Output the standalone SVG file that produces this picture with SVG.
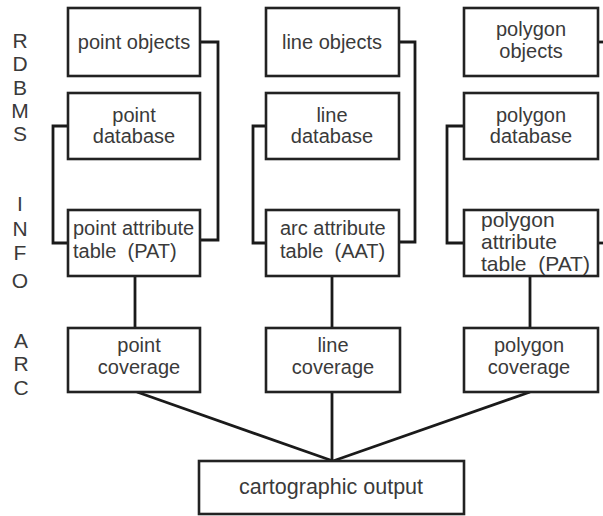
<svg xmlns="http://www.w3.org/2000/svg" width="603" height="516" viewBox="0 0 603 516">
<style>
.box{fill:#fff;stroke:#222;stroke-width:2.6}
.lbl{font-family:"Liberation Sans",Arial,sans-serif;font-size:20px;fill:#3a3a3a}
.c{text-anchor:middle}
.side{font-family:"Liberation Sans",Arial,sans-serif;font-size:21px;fill:#3a3a3a;text-anchor:middle}
.con{fill:none;stroke:#1a1a1a;stroke-width:2.8}
</style>
<rect width="603" height="516" fill="#fff"/>
<g id="side-labels">
<text class="side" x="20" y="48">R</text>
<text class="side" x="20" y="71">D</text>
<text class="side" x="20" y="95">B</text>
<text class="side" x="20" y="118">M</text>
<text class="side" x="20" y="141">S</text>
<text class="side" x="20" y="211">I</text>
<text class="side" x="20" y="236">N</text>
<text class="side" x="20" y="260">F</text>
<text class="side" x="20" y="288">O</text>
<text class="side" x="21" y="348">A</text>
<text class="side" x="21" y="371">R</text>
<text class="side" x="21" y="395">C</text>
</g>
<g id="connectors">
<polyline class="con" points="200,42 218,42 218,240 200,240"/>
<polyline class="con" points="68,126 53,126 53,243 68,243"/>
<polyline class="con" points="399,42 415,42 415,242 399,242"/>
<polyline class="con" points="266,126 253,126 253,243 266,243"/>
<line class="con" x1="598" y1="42" x2="605" y2="42"/>
<line class="con" x1="598" y1="243" x2="605" y2="243"/>
<polyline class="con" points="464,126 447,126 447,243 464,243"/>
<line class="con" x1="135" y1="276" x2="135" y2="328"/>
<line class="con" x1="332" y1="276" x2="332" y2="328"/>
<line class="con" x1="530" y1="276" x2="530" y2="328"/>
<line class="con" x1="137" y1="392" x2="333" y2="461"/>
<line class="con" x1="332" y1="392" x2="332" y2="461"/>
<line class="con" x1="530" y1="392" x2="333" y2="461"/>
</g>
<g id="point-objects">
<rect class="box" x="68" y="8" width="132" height="68"/>
<text class="lbl c" x="134" y="49">point objects</text>
</g>
<g id="point-database">
<rect class="box" x="68" y="93" width="132" height="66"/>
<text class="lbl c" x="134" y="122">point</text>
<text class="lbl c" x="134" y="143">database</text>
</g>
<g id="point-attribute-table">
<rect class="box" x="68" y="210" width="132" height="66"/>
<text class="lbl" x="73" y="235">point attribute</text>
<text class="lbl" x="73" y="258">table&#160; (PAT)</text>
</g>
<g id="line-objects">
<rect class="box" x="266" y="8" width="133" height="68"/>
<text class="lbl c" x="332" y="49">line objects</text>
</g>
<g id="line-database">
<rect class="box" x="266" y="93" width="133" height="66"/>
<text class="lbl c" x="332" y="122">line</text>
<text class="lbl c" x="332" y="143">database</text>
</g>
<g id="arc-attribute-table">
<rect class="box" x="266" y="210" width="133" height="66"/>
<text class="lbl" x="280" y="235">arc attribute</text>
<text class="lbl" x="280" y="258">table&#160; (AAT)</text>
</g>
<g id="polygon-objects">
<rect class="box" x="464" y="8" width="134" height="68"/>
<text class="lbl c" x="531" y="36">polygon</text>
<text class="lbl c" x="531" y="58">objects</text>
</g>
<g id="polygon-database">
<rect class="box" x="464" y="93" width="134" height="66"/>
<text class="lbl c" x="531" y="122">polygon</text>
<text class="lbl c" x="531" y="143">database</text>
</g>
<g id="polygon-attribute-table">
<rect class="box" x="464" y="210" width="134" height="66"/>
<text class="lbl" x="481" y="227" style="font-size:21px">polygon</text>
<text class="lbl" x="481" y="249" style="font-size:21px">attribute</text>
<text class="lbl" x="481" y="271" style="font-size:21px">table&#160; (PAT)</text>
</g>
<g id="point-coverage">
<rect class="box" x="68" y="328" width="132" height="64"/>
<text class="lbl c" x="139" y="352">point</text>
<text class="lbl c" x="139" y="374">coverage</text>
</g>
<g id="line-coverage">
<rect class="box" x="266" y="328" width="134" height="64"/>
<text class="lbl c" x="333" y="352">line</text>
<text class="lbl c" x="333" y="374">coverage</text>
</g>
<g id="polygon-coverage">
<rect class="box" x="464" y="328" width="134" height="64"/>
<text class="lbl c" x="529" y="352">polygon</text>
<text class="lbl c" x="529" y="374">coverage</text>
</g>
<g id="cartographic-output">
<rect class="box" x="199" y="461" width="265" height="53"/>
<text class="lbl c" x="331" y="494" style="font-size:21.5px">cartographic output</text>
</g>
</svg>
